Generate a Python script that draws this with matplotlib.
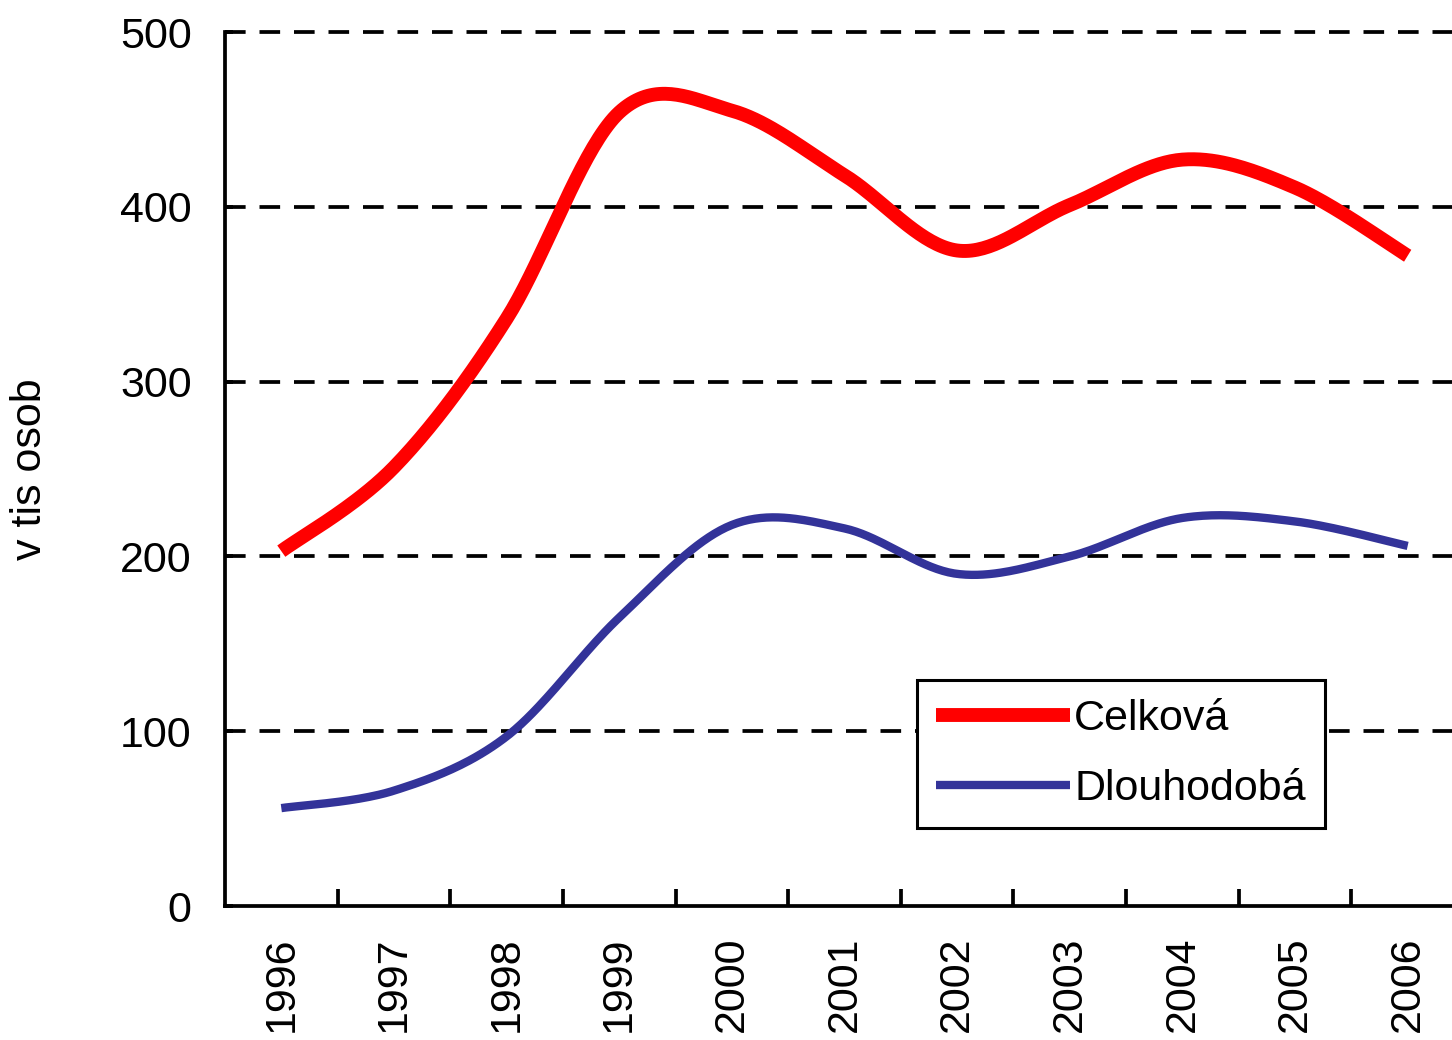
import numpy as np
import matplotlib
matplotlib.use("Agg")
import matplotlib.pyplot as plt

plt.rcParams['font.family'] = ['Liberation Sans', 'DejaVu Sans']

# data (v tis osob)
years = ['1996', '1997', '1998', '1999', '2000', '2001',
         '2002', '2003', '2004', '2005', '2006']
celkova = [203, 251, 336, 454, 455, 418, 375, 401, 427, 411, 372]
dlouhodoba = [56, 66, 97, 165, 218, 216, 190, 200, 222, 220, 206]
yticks = [0, 100, 200, 300, 400, 500]


def smooth(x, y, n=40):
    ''' Excel-like smoothed line: cubic Bezier through every point '''
    x = np.asarray(x, float)
    y = np.asarray(y, float)
    px = np.concatenate(([x[0]], x, [x[-1]]))
    py = np.concatenate(([y[0]], y, [y[-1]]))
    t = np.linspace(0, 1, n)[:, None]
    xs, ys = [], []
    for i in range(len(x) - 1):
        p0 = np.array([x[i], y[i]])
        p3 = np.array([x[i + 1], y[i + 1]])
        p1 = p0 + (np.array([px[i + 2], py[i + 2]]) - np.array([px[i], py[i]])) / 6
        p2 = p3 - (np.array([px[i + 3], py[i + 3]]) - np.array([px[i + 1], py[i + 1]])) / 6
        b = ((1 - t)**3 * p0 + 3 * (1 - t)**2 * t * p1
             + 3 * (1 - t) * t**2 * p2 + t**3 * p3)
        xs.append(b[:, 0])
        ys.append(b[:, 1])
    return np.concatenate(xs), np.concatenate(ys)


fig = plt.figure(figsize=(14.52, 10.40), dpi=100)
ax = fig.add_axes([225/1452, 134/1040, 1239/1452, 874/1040])

pos = np.arange(len(years))

# dashed grid
for v in yticks[1:]:
    ln = ax.axhline(v, color='black', lw=2.7, clip_on=False, zorder=1)
    ln.set_dashes((5.5, 3.7))
    ln.set_dash_capstyle('butt')

sx, sy = smooth(pos, celkova)
ax.plot(sx, sy, color='#FF0000', lw=10, solid_capstyle='butt',
        solid_joinstyle='round', label='Celková', zorder=3)
sx, sy = smooth(pos, dlouhodoba)
ax.plot(sx, sy, color='#333399', lw=6, solid_capstyle='butt',
        solid_joinstyle='round', label='Dlouhodobá', zorder=3)

ax.set_xlim(-0.5, len(years) - 0.5)
ax.set_ylim(0, 500)

ax.set_yticks(yticks)
ax.set_yticklabels([str(v) for v in yticks], fontsize=31)
ax.tick_params(axis='y', direction='in', length=6, width=2.7, pad=24)

ax.set_xticks(pos)
ax.set_xticklabels(years, rotation=90, fontsize=31, va='top')
ax.tick_params(axis='x', which='major', length=0, pad=22)
ax.set_xticks(pos[:-1] + 0.5, minor=True)
ax.tick_params(axis='x', which='minor', direction='in', length=12, width=2.7)

for side in ['top', 'right']:
    ax.spines[side].set_visible(False)
for side in ['left', 'bottom']:
    ax.spines[side].set_linewidth(2.7)

ax.set_ylabel('v tis osob', fontsize=31)
ax.yaxis.set_label_coords(-0.141, 0.5)

leg = ax.legend(loc='upper left', bbox_to_anchor=(917/1452, 1 - 680/1040),
                bbox_transform=fig.transFigure, borderaxespad=0,
                fontsize=31, handlelength=3.1, handletextpad=0.1,
                labelspacing=0.68, borderpad=0.45, fancybox=False,
                framealpha=1, edgecolor='black')
leg.get_frame().set_linewidth(2.2)

fig.savefig('out.png', dpi=100)
